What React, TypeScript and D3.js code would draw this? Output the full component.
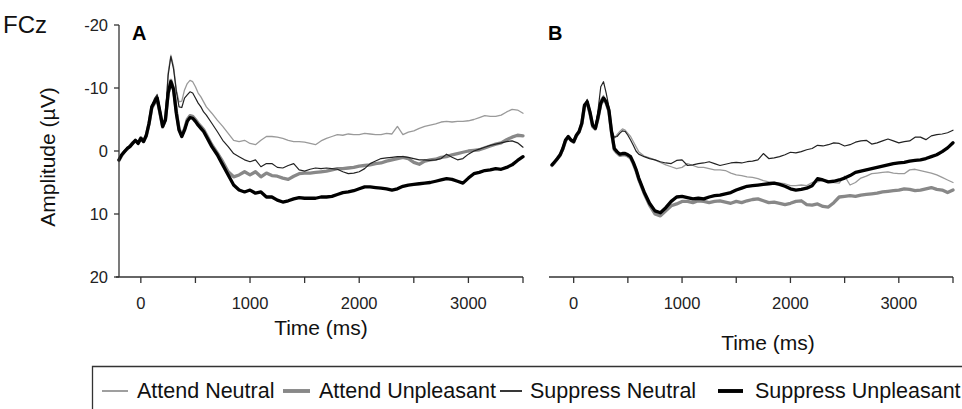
import React from "react";
import * as d3 from "d3";

// Sample times (ms)
const TIMES = [
  -200, -175, -150, -125, -100, -75, -50, -25, 0, 25, 50, 75, 100, 125, 150, 175, 200, 225, 250, 275, 300, 325, 350, 375, 400, 425, 450, 475, 500, 525, 550, 575, 600,
  650, 700, 750, 800, 850, 900, 950, 1000, 1050, 1100,
  1150, 1200, 1250, 1300, 1350, 1400, 1450, 1500, 1550, 1600,
  1650, 1700, 1750, 1800, 1850, 1900, 1950, 2000, 2050, 2100,
  2150, 2200, 2250, 2300, 2350, 2400, 2450, 2500, 2550, 2600,
  2650, 2700, 2750, 2800, 2850, 2900, 2950, 3000, 3050, 3100,
  3150, 3200, 3250, 3300, 3350, 3400, 3450, 3500,
];

// Panel A (Attend / Suppress x Neutral / Unpleasant), amplitude in µV
const A_ATTEND_NEUTRAL = [
  1.4, 0.6, 0.1, -0.4, -0.7, -1.2, -1.7, -1.2, -2.0, -1.5, -2.5, -4.4, -7.0, -8.2, -9.0, -6.8, -4.3, -5.5, -12.4, -15.2, -13.4, -9.7, -7.8, -7.9, -9.7, -10.7, -11.2, -11.0, -10.2, -9.2, -8.6, -7.8, -7.0,
  -6.0, -4.9, -3.9, -2.8, -1.7, -1.5, -1.7, -1.2, -1.0, -1.7,
  -2.3, -2.3, -2.2, -2.0, -1.7, -1.5, -1.5, -1.4, -1.2, -1.0,
  -1.6, -2.0, -2.3, -2.6, -2.5, -2.7, -2.6, -2.6, -2.8, -2.7,
  -2.6, -2.6, -2.8, -2.7, -3.9, -2.6, -3.0, -3.2, -3.6, -3.9,
  -4.1, -4.3, -4.6, -4.7, -4.6, -4.7, -4.7, -4.8, -5.0, -5.3,
  -5.6, -5.5, -5.5, -5.7, -6.2, -6.6, -6.5, -6.0,
];
const A_ATTEND_UNPLEASANT = [
  1.5, 0.7, 0.1, -0.3, -0.8, -1.3, -1.6, -1.3, -2.1, -1.6, -2.4, -4.3, -6.8, -7.6, -8.2, -6.0, -3.8, -5.0, -9.0, -11.2, -9.9, -6.3, -3.5, -2.5, -3.5, -5.0, -5.6, -5.5, -5.0, -4.4, -3.9, -3.4, -2.6,
  -1.0, 0.3, 1.7, 3.3, 4.1, 3.8, 3.3, 3.8, 3.3, 4.1,
  3.5, 3.9, 4.0, 4.3, 4.5, 4.0, 3.6, 3.5, 3.5, 3.4,
  3.3, 3.2, 3.0, 2.8, 2.8, 2.7, 2.6, 2.4, 2.3, 2.2,
  2.0, 1.9, 1.6, 1.4, 1.2, 1.0, 1.2, 1.8, 2.1, 1.6,
  1.4, 1.3, 1.0, 0.9, 0.6, 0.4, 0.2, 0.0, -0.1, -0.2,
  -0.5, -0.8, -1.1, -1.3, -1.8, -2.2, -2.5, -2.4,
];
const A_SUPPRESS_NEUTRAL = [
  1.3, 0.6, 0.2, -0.4, -0.8, -1.2, -1.6, -1.3, -2.0, -1.6, -2.6, -4.5, -7.1, -8.3, -8.9, -6.6, -4.1, -5.3, -12.0, -15.0, -13.0, -9.5, -7.0, -6.9, -8.4, -8.9, -9.4, -9.2, -8.4, -7.6, -7.0, -6.2, -5.7,
  -4.4, -3.1, -1.7, -0.7, 0.4, 0.9, 1.4, 1.7, 1.4, 2.5,
  2.0, 2.0, 2.6, 2.7, 2.3, 2.0, 3.0, 3.2, 2.9, 2.7,
  2.8, 2.7, 2.8, 2.9, 3.3, 3.6, 3.5, 3.3, 2.8, 2.0,
  1.6, 1.2, 1.1, 1.0, 0.9, 0.9, 1.0, 1.2, 1.4, 1.4,
  1.5, 1.4, 1.2, 0.5, 1.0, 1.4, 1.2, 0.5, 0.0, -0.3,
  -0.6, -0.9, -1.1, -1.3, -1.5, -1.6, -1.3, -0.6,
];
const A_SUPPRESS_UNPLEASANT = [
  1.4, 0.6, 0.1, -0.4, -0.7, -1.2, -1.7, -1.2, -2.0, -1.5, -2.5, -4.4, -7.0, -7.8, -8.4, -6.2, -3.9, -4.9, -9.2, -11.0, -9.7, -6.0, -3.3, -2.3, -3.3, -4.7, -5.3, -5.2, -4.7, -4.1, -3.6, -3.1, -2.3,
  -0.7, 0.6, 2.2, 3.8, 5.4, 6.2, 6.5, 6.2, 6.7, 6.5,
  7.3, 7.3, 7.8, 8.1, 7.9, 7.6, 7.4, 7.5, 7.5, 7.5,
  7.3, 7.3, 7.2, 6.9, 6.6, 6.5, 6.3, 6.0, 5.7, 5.7,
  5.8, 5.9, 6.0, 6.2, 6.0, 5.6, 5.4, 5.3, 5.2, 5.1,
  5.0, 4.8, 4.6, 4.4, 4.5, 4.8, 5.1, 4.3, 3.6, 3.4,
  3.1, 3.0, 2.8, 2.9, 2.6, 2.2, 1.5, 0.9,
];

// Panel B
const B_ATTEND_NEUTRAL = [
  2.2, 1.7, 1.2, 0.6, -0.4, -1.7, -2.3, -1.8, -1.5, -2.5, -3.1, -4.4, -7.3, -7.9, -6.3, -4.1, -3.6, -5.8, -8.2, -8.8, -8.0, -6.6, -3.2, -2.0, -2.6, -3.1, -3.5, -3.3, -2.8, -2.3, -1.5, -0.7, 0.1,
  0.8, 1.1, 1.4, 1.8, 2.2, 2.5, 2.8, 2.6, 2.0, 2.3,
  2.6, 2.6, 2.8, 3.0, 3.0, 3.1, 3.5, 3.8, 3.9, 4.1,
  4.2, 4.4, 4.7, 4.9, 5.0, 5.1, 5.2, 5.5, 5.5, 5.4,
  5.5, 5.0, 4.9, 4.7, 4.8, 5.0, 5.1, 4.0, 5.4, 5.0,
  4.3, 4.0, 3.6, 3.5, 3.4, 3.3, 3.5, 3.6, 3.6, 3.0,
  2.9, 3.1, 3.3, 3.5, 3.8, 4.2, 4.6, 5.0,
];
const B_ATTEND_UNPLEASANT = [
  2.3, 1.8, 1.2, 0.7, -0.3, -1.6, -2.2, -1.7, -1.4, -2.4, -3.0, -4.3, -7.1, -7.6, -6.0, -3.9, -3.5, -5.2, -7.4, -8.2, -7.6, -6.3, -2.8, -0.2, 0.3, 0.7, 0.6, 0.6, 0.8, 1.1, 2.0, 3.1, 4.5,
  6.7, 8.6, 10.0, 10.3, 9.5, 8.7, 8.4, 8.0, 8.0, 8.2,
  7.9, 8.0, 8.2, 8.0, 7.9, 8.1, 8.3, 8.0, 8.2, 7.9,
  7.7, 7.6, 7.9, 8.2, 8.1, 8.3, 8.5, 8.3, 8.0, 7.9,
  8.5, 8.6, 8.4, 8.8, 8.9, 8.2, 7.3, 7.2, 7.1, 7.2,
  7.0, 6.9, 6.8, 6.7, 6.5, 6.4, 6.3, 6.2, 6.0, 6.1,
  6.3, 6.2, 6.0, 5.8, 6.1, 6.2, 6.6, 6.2,
];
const B_SUPPRESS_NEUTRAL = [
  2.2, 1.7, 1.2, 0.6, -0.4, -1.7, -2.3, -1.8, -1.5, -2.5, -3.1, -4.4, -7.3, -8.2, -6.4, -4.2, -3.7, -6.5, -10.2, -11.0, -9.2, -7.0, -3.4, -2.2, -2.3, -2.8, -3.2, -3.1, -2.5, -1.75, -0.9, 0.0, 0.5,
  0.9, 1.2, 1.4, 1.7, 1.9, 2.0, 1.5, 1.4, 2.3, 2.2,
  2.0, 1.9, 1.7, 2.0, 2.3, 2.1, 1.9, 1.8, 1.9, 1.7,
  1.6, 1.4, 0.4, 1.2, 1.1, 0.9, 0.6, 0.2, 0.3, 0.1,
  -0.2, -0.4, -0.9, -0.8, -1.0, -1.3, -1.2, -0.8, -1.0, -1.4,
  -1.6, -1.7, -1.1, -1.3, -1.6, -1.9, -1.6, -1.3, -1.5, -1.6,
  -2.2, -2.2, -1.8, -2.4, -2.6, -2.7, -2.9, -3.3,
];
const B_SUPPRESS_UNPLEASANT = [
  2.2, 1.7, 1.2, 0.6, -0.4, -1.75, -2.3, -1.75, -1.5, -2.5, -3.1, -4.4, -7.3, -7.8, -6.2, -4.1, -3.6, -5.4, -7.6, -8.4, -7.8, -6.5, -3.0, -0.4, 0.1, 0.5, 0.4, 0.4, 0.6, 0.9, 1.8, 2.9, 4.3,
  6.5, 8.3, 9.5, 9.8, 9.0, 8.0, 7.3, 7.2, 7.4, 7.6,
  7.5, 7.6, 7.3, 7.1, 7.0, 6.8, 6.6, 6.2, 5.9, 5.6,
  5.5, 5.4, 5.3, 5.2, 5.1, 5.3, 5.6, 6.0, 6.2, 6.1,
  5.9, 5.5, 4.4, 4.6, 4.9, 4.8, 4.6, 4.3, 3.9, 3.4,
  3.2, 3.0, 2.8, 2.6, 2.4, 2.2, 2.0, 1.9, 1.8, 1.6,
  1.5, 1.4, 1.2, 0.9, 0.6, 0.1, -0.5, -1.3,
];

const Y_TICKS = [-20, -10, 0, 10, 20];
const X_TICKS = [0, 500, 1000, 1500, 2000, 2500, 3000, 3500];
const X_LABELS = [0, 1000, 2000, 3000];
const SERIES_NAMES = ["Attend Neutral", "Attend Unpleasant", "Suppress Neutral", "Suppress Unpleasant"];

const STYLES = [
  { color: "#9a9a9a", width: 1.3 },
  { color: "#888888", width: 3.3 },
  { color: "#222222", width: 1.2 },
  { color: "#000000", width: 3.3 },
];

const FONT = "'Liberation Sans', Arial, Helvetica, sans-serif";
const W = 962;
const H = 409;

const y = d3.scaleLinear().domain([-20, 20]).range([25, 277]);

function Panel({ x0, x1, data, showY, letter, letterX, titleX, titleY }: any) {
  const x = d3.scaleLinear().domain([-200, 3500]).range([x0, x1]);
  const line = d3
    .line<number>()
    .x((_, i) => x(TIMES[i]))
    .y((d) => y(d))
    .curve(d3.curveLinear);
  const axisY = y(20);
  return (
    <g>
      {data.map((vals: number[], i: number) => (
        <path
          key={i}
          d={line(vals) || ""}
          fill="none"
          stroke={STYLES[i].color}
          strokeWidth={STYLES[i].width}
          strokeLinejoin="round"
          strokeLinecap="round"
        />
      ))}
      {showY && (
        <g>
          <line x1={x0} x2={x0} y1={y(-20)} y2={y(20)} stroke="#333" strokeWidth={1.3} />
          {Y_TICKS.map((t) => (
            <g key={t}>
              <line x1={x0 - 5} x2={x0} y1={y(t)} y2={y(t)} stroke="#333" strokeWidth={1.3} />
              <text
                x={x0 - 11}
                y={y(t)}
                dy="0.35em"
                textAnchor="end"
                fontSize={16.5}
                fill="#222"
                fontFamily={FONT}
              >
                {t}
              </text>
            </g>
          ))}
        </g>
      )}
      <line x1={x0 - 3} x2={x1} y1={axisY} y2={axisY} stroke="#333" strokeWidth={1.3} />
      {X_TICKS.map((t) => (
        <line key={t} x1={x(t)} x2={x(t)} y1={axisY} y2={axisY + 6} stroke="#333" strokeWidth={1.3} />
      ))}
      {X_LABELS.map((t) => (
        <text
          key={t}
          x={x(t)}
          y={309}
          textAnchor="middle"
          fontSize={16.5}
          fill="#222"
          fontFamily={FONT}
        >
          {t}
        </text>
      ))}
      <text x={titleX} y={titleY} textAnchor="middle" fontSize={21} fill="#111" fontFamily={FONT}>
        Time (ms)
      </text>
      <text x={letterX} y={40} fontSize={20} fontWeight="bold" fill="#000" fontFamily={FONT}>
        {letter}
      </text>
    </g>
  );
}

export default function App() {
  const legendItems = [
    { lx: 102, tx: 137 },
    { lx: 283, tx: 319 },
    { lx: 500, tx: 530 },
    { lx: 718, tx: 755 },
  ];
  const legendLen = [26, 27, 22, 25];
  return (
    <svg
      width={W}
      height={H}
      viewBox={`0 0 ${W} ${H}`}
      style={{ position: "absolute", left: 0, top: 0, background: "#fff" }}
    >
      <rect x={0} y={0} width={W} height={H} fill="#fff" />
      <text x={3} y={33} fontSize={24} fill="#111" fontFamily={FONT}>
        FCz
      </text>
      <text
        transform={`translate(55, 157) rotate(-90)`}
        textAnchor="middle"
        fontSize={21}
        fill="#111"
        fontFamily={FONT}
      >
        Amplitude (µV)
      </text>
      <Panel
        x0={119}
        x1={523}
        data={[A_ATTEND_NEUTRAL, A_ATTEND_UNPLEASANT, A_SUPPRESS_NEUTRAL, A_SUPPRESS_UNPLEASANT]}
        showY={true}
        letter="A"
        letterX={132}
        titleX={321}
        titleY={335}
      />
      <Panel
        x0={552}
        x1={953}
        data={[B_ATTEND_NEUTRAL, B_ATTEND_UNPLEASANT, B_SUPPRESS_NEUTRAL, B_SUPPRESS_UNPLEASANT]}
        showY={false}
        letter="B"
        letterX={548}
        titleX={768}
        titleY={350}
      />
      <path d={`M92.5,${H + 2} V366.5 H${W + 2}`} fill="none" stroke="#333" strokeWidth={1.3} />
      {SERIES_NAMES.map((name, i) => (
        <g key={name}>
          <line
            x1={legendItems[i].lx}
            x2={legendItems[i].lx + legendLen[i]}
            y1={391}
            y2={391}
            stroke={STYLES[i].color}
            strokeWidth={STYLES[i].width + 0.6}
          />
          <text x={legendItems[i].tx} y={398} fontSize={21.5} fill="#111" fontFamily={FONT}>
            {name}
          </text>
        </g>
      ))}
    </svg>
  );
}
